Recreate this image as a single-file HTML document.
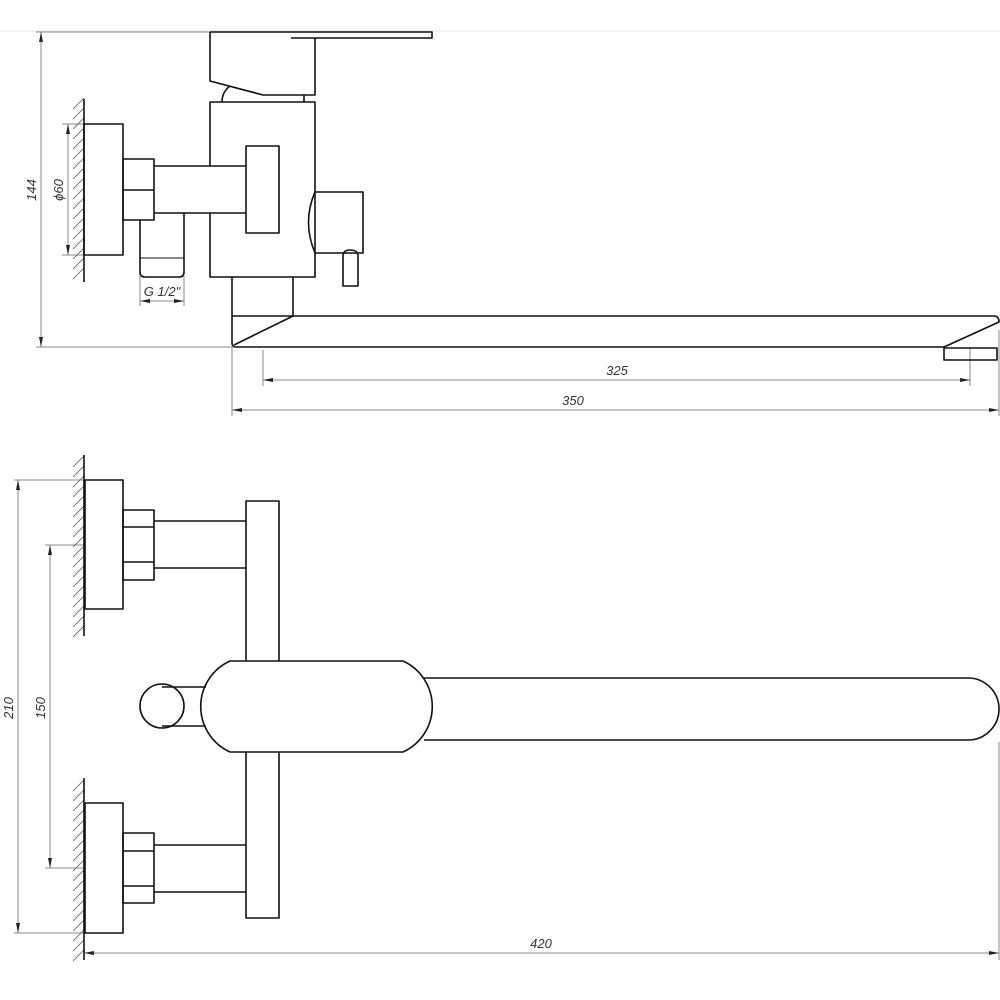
<!DOCTYPE html>
<html><head><meta charset="utf-8"><style>
html,body{margin:0;padding:0;background:#fff;}
svg{display:block}
text{font-family:"Liberation Sans",sans-serif;font-style:italic;font-size:13px;fill:#333}
</style></head><body>
<svg width="1000" height="1000" viewBox="0 0 1000 1000" xmlns="http://www.w3.org/2000/svg">
<defs>
<marker id="a" viewBox="0 0 10 4" refX="10" refY="2" markerWidth="10" markerHeight="4" orient="auto-start-reverse" markerUnits="userSpaceOnUse"><path d="M0,0 L10,2 L0,4z" fill="#222"/></marker>
</defs>
<line x1="0" y1="31" x2="1000" y2="31" stroke="#e6e6e6" stroke-width="1"/>
<g stroke="#888" stroke-width="1" fill="none">
<!-- 144 -->
<line x1="36" y1="32" x2="210" y2="32"/>
<line x1="36" y1="347" x2="232" y2="347"/>
<line x1="41" y1="32" x2="41" y2="347" marker-start="url(#a)" marker-end="url(#a)"/>
<!-- phi60 -->
<line x1="62" y1="124" x2="84" y2="124"/>
<line x1="62" y1="255" x2="84" y2="255"/>
<line x1="68" y1="124" x2="68" y2="255" marker-start="url(#a)" marker-end="url(#a)"/>
<!-- G1/2 -->
<line x1="140" y1="276" x2="140" y2="306"/>
<line x1="184" y1="276" x2="184" y2="306"/>
<line x1="140" y1="301" x2="184" y2="301" marker-start="url(#a)" marker-end="url(#a)"/>
<!-- 325 / 350 -->
<line x1="263" y1="350" x2="263" y2="386"/>
<line x1="970" y1="348" x2="970" y2="386"/>
<line x1="263" y1="380" x2="970" y2="380" marker-start="url(#a)" marker-end="url(#a)"/>
<line x1="232" y1="347" x2="232" y2="416"/>
<line x1="999" y1="330" x2="999" y2="416"/>
<line x1="232" y1="410" x2="999" y2="410" marker-start="url(#a)" marker-end="url(#a)"/>
<!-- 210 / 150 / 420 -->
<line x1="14" y1="480" x2="84" y2="480"/>
<line x1="14" y1="933" x2="84" y2="933"/>
<line x1="18" y1="480" x2="18" y2="933" marker-start="url(#a)" marker-end="url(#a)"/>
<line x1="45" y1="545" x2="84" y2="545"/>
<line x1="45" y1="868" x2="84" y2="868"/>
<line x1="50" y1="545" x2="50" y2="868" marker-start="url(#a)" marker-end="url(#a)"/>
<line x1="999" y1="742" x2="999" y2="960"/>
<line x1="84" y1="953" x2="999" y2="953" marker-start="url(#a)" marker-end="url(#a)"/>
</g>
<g stroke="#555" stroke-width="0.8">
<path id="h1" d="M73,109 l11,-11 M73,119 l11,-11 M73,129 l11,-11 M73,139 l11,-11 M73,149 l11,-11 M73,159 l11,-11 M73,169 l11,-11 M73,179 l11,-11 M73,189 l11,-11 M73,199 l11,-11 M73,209 l11,-11 M73,219 l11,-11 M73,229 l11,-11 M73,239 l11,-11 M73,249 l11,-11 M73,259 l11,-11 M73,269 l11,-11 M73,279 l11,-11"/>
<use href="#h1" y="358"/>
<use href="#h1" y="682"/>
</g>
<text x="0" y="0" transform="translate(36,190) rotate(-90)" text-anchor="middle">144</text>
<text x="0" y="0" transform="translate(63,190) rotate(-90)" text-anchor="middle">ϕ60</text>
<text x="162" y="296" text-anchor="middle">G 1/2"</text>
<text x="617" y="375" text-anchor="middle">325</text>
<text x="573" y="405" text-anchor="middle">350</text>
<text x="0" y="0" transform="translate(13,708) rotate(-90)" text-anchor="middle">210</text>
<text x="0" y="0" transform="translate(45,708) rotate(-90)" text-anchor="middle">150</text>
<text x="541" y="948" text-anchor="middle">420</text>
<g stroke="#111" stroke-width="1.6" fill="none" stroke-linejoin="round">
<!-- top view -->
<line x1="84" y1="99" x2="84" y2="282"/>
<rect x="84" y="124" width="39" height="131"/>
<rect x="123" y="159" width="31" height="61"/>
<line x1="123" y1="190" x2="154" y2="190"/>
<path d="M154,166 H246 M154,213 H246"/>
<path d="M140,220 V272 Q140,277 145,277 H179 Q184,277 184,272 V213"/>
<line x1="140" y1="258" x2="184" y2="258" stroke-width="1"/>
<path d="M210,166 V102 H315 V277 H210 V213"/>
<rect x="246" y="146" width="33" height="87"/>
<path d="M210,32 H432 V38 H291 M315,38 V95 H263 L210,81 V32"/>
<path d="M222,102 Q222,92 230,86 M304,95 V102"/>
<path d="M315,192 H363 V253 H315 M315,192 Q302,222 315,253"/>
<path d="M343,286 V256 Q343,250 350,250 Q358,250 358,256 V286 Z"/>
<path d="M232,277 V316 M293,277 V316"/>
<path d="M232,316 H994 Q999,316 999,322 L944,347 H236 Q232,347 232,343 V316 M293,316 L234,345"/>
<rect x="944" y="348" width="53" height="12"/>
<!-- bottom view -->
<line x1="84" y1="455" x2="84" y2="636"/>
<rect x="85" y="480" width="38" height="129"/>
<rect x="123" y="510" width="31" height="70"/>
<path d="M123,527 H154 M123,562 H154"/>
<path d="M154,521 H246 M154,568 H246"/>
<line x1="84" y1="778" x2="84" y2="960"/>
<rect x="85" y="803" width="38" height="130"/>
<rect x="123" y="833" width="31" height="70"/>
<path d="M123,851 H154 M123,886 H154"/>
<path d="M154,845 H246 M154,892 H246"/>
<path d="M246,661 V501 H279 V661 M246,752 V918 H279 V752"/>
<path d="M230,661 H403 A50,50 0 0 1 403,752 H230 A50,50 0 0 1 230,661 Z"/>
<path d="M424,678 H968 A31,31 0 0 1 968,740 H424"/>
<circle cx="162" cy="706" r="22"/>
<path d="M162,687 H206 M162,726 H206"/>
</g>
</svg>
</body></html>
